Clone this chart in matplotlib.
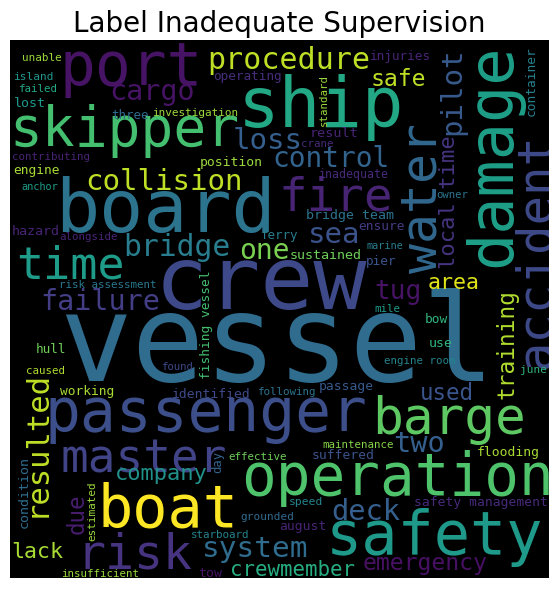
import matplotlib
matplotlib.use("Agg")
import matplotlib.pyplot as plt
from matplotlib.textpath import TextPath
from matplotlib.font_manager import FontProperties

# ---- data: words, their rendered size (ink length in px ~ frequency), colour (viridis fraction)
words = ["vessel", "crew", "board", "ship", "skipper", "port", "procedure", "damage",
         "accident", "water", "passenger", "operation", "safety", "boat", "barge",
         "master", "risk", "fire", "time", "loss", "control", "cargo", "collision",
         "bridge", "failure", "sea", "one", "tug", "area", "training", "used", "two",
         "deck", "emergency", "crewmember", "system", "company", "lack", "resulted",
         "pilot", "local time", "due", "safe", "unable", "island", "failed",
         "operating", "lost", "three", "investigation", "contributing", "position",
         "engine", "anchor", "injuries", "standard", "container", "result", "crane",
         "inadequate", "owner", "bridge team", "ensure", "hazard", "alongside",
         "ferry", "risk assessment", "sustained", "marine", "pier", "mile",
         "fishing vessel", "hull", "caused", "found", "working", "identified",
         "following", "passage", "bow", "use", "engine room", "june", "maintenance",
         "flooding", "suffered", "effective", "day", "condition", "estimated",
         "grounded", "starboard", "speed", "safety management", "august",
         "insufficient", "tow"]

spans = [418, 204, 207, 155, 222, 132, 158, 216,
         228, 148, 315, 303, 209, 130, 146,
         162, 107, 107, 103, 65, 112, 81, 152,
         103, 115, 47, 47, 43, 49, 106, 50, 48,
         67, 123, 122, 102, 90, 50, 139,
         82, 130, 38, 52, 38, 38, 37,
         67, 30, 36, 84, 76, 61,
         45, 36, 59, 50, 68, 45, 31,
         68, 31, 86, 45, 46, 57,
         36, 95, 70, 36, 29, 25,
         106, 28, 37, 30, 53, 77,
         57, 53, 22, 22, 70, 25, 70,
         60, 60, 57, 21, 70, 58,
         52, 57, 32, 130, 45,
         76, 23]

shades = [0.35, 0.22, 0.38, 0.60, 0.70, 0.05, 0.90, 0.56,
          0.22, 0.33, 0.24, 0.72, 0.54, 1.00, 0.75,
          0.20, 0.15, 0.10, 0.55, 0.30, 0.32, 0.05, 0.90,
          0.42, 0.18, 0.25, 0.80, 0.05, 0.95, 0.88, 0.26, 0.30,
          0.30, 0.04, 0.62, 0.35, 0.50, 0.87, 0.90,
          0.28, 0.15, 0.08, 0.90, 0.85, 0.53, 0.60,
          0.13, 0.53, 0.35, 0.85, 0.10, 0.85,
          0.87, 0.55, 0.10, 0.85, 0.43, 0.10, 0.12,
          0.12, 0.38, 0.38, 0.17, 0.10, 0.10,
          0.42, 0.40, 0.78, 0.42, 0.26, 0.55,
          0.70, 0.78, 0.88, 0.22, 0.87, 0.22,
          0.38, 0.27, 0.65, 0.65, 0.45, 0.65, 0.82,
          0.87, 0.25, 0.78, 0.32, 0.35, 0.85,
          0.34, 0.45, 0.45, 0.12, 0.10,
          0.85, 0.05]

# ---- layout: centre of each word (image pixels) and rotation
layout = [(274, 336, 0), (265, 285, 0), (166, 205, 0), (322, 108, 0), (126, 131, 0),
          (131, 70, 0), (289, 61, 0), (493, 155, 90), (532, 251, 90), (419, 199, 90),
          (208, 421, 0), (396, 479, 0), (437, 537, 0), (168, 505, 0), (450, 420, 0),
          (144, 457, 0), (139, 551, 0), (337, 193, 0), (71, 262, 0), (267, 138, 0),
          (331, 157, 0), (152, 95, 0), (164, 179, 0), (178, 248, 0), (100, 299, 0),
          (334, 235, 0), (264, 251, 0), (398, 293, 0), (454, 283, 0), (507, 345, 90),
          (447, 392, 0), (419, 442, 0), (366, 509, 0), (426, 566, 0), (293, 568, 0),
          (256, 550, 0), (162, 476, 0), (38, 550, 0), (33, 442, 90), (452, 91, 90),
          (447, 202, 90), (75, 514, 90), (399, 77, 0), (42, 57, 0), (34, 76, 0),
          (38, 88, 0), (247, 77, 0), (30, 102, 0), (130, 114, 0), (195, 113, 0),
          (51, 157, 0), (231, 162, 0), (37, 170, 0), (40, 186, 0), (400, 56, 0),
          (323, 100, 90), (530, 81, 90), (335, 132, 0), (318, 144, 0), (354, 175, 0),
          (452, 195, 0), (350, 215, 0), (382, 226, 0), (36, 230, 0), (88, 237, 0),
          (280, 236, 0), (108, 284, 0), (326, 254, 0), (385, 245, 0), (382, 261, 0),
          (387, 308, 0), (206, 325, 90), (51, 348, 0), (46, 370, 0), (177, 366, 0),
          (86, 391, 0), (211, 393, 0), (288, 392, 0), (346, 388, 0), (437, 318, 0),
          (441, 343, 0), (420, 361, 0), (534, 370, 0), (358, 444, 0), (508, 452, 0),
          (343, 454, 0), (258, 456, 0), (218, 462, 90), (23, 492, 90), (91, 511, 90),
          (267, 517, 0), (221, 534, 0), (306, 502, 0), (480, 502, 0), (302, 527, 0),
          (100, 573, 0), (211, 572, 0)]

W, H, DPI = 559, 589, 100
X0, X1, Y0, Y1 = 10, 549, 40, 578

fig = plt.figure(figsize=(W / DPI, H / DPI), dpi=DPI)
ax = fig.add_axes([X0 / W, (H - Y1) / H, (X1 - X0) / W, (Y1 - Y0) / H])
ax.set_xlim(X0, X1)
ax.set_ylim(Y1, Y0)
ax.set_facecolor("black")
ax.set_xticks([])
ax.set_yticks([])
for s in ax.spines.values():
    s.set_visible(False)

font = FontProperties(family="DejaVu Sans Mono")
cmap = plt.get_cmap("viridis")

for w, span, shade, (cx, cy, rot) in zip(words, spans, shades, layout):
    ext = TextPath((0, 0), w, size=100, prop=font).get_extents()
    f = span / ext.width
    em_px = 100 * f
    mx = (ext.x0 + ext.x1) / 2 * f
    my = (ext.y0 + ext.y1) / 2 * f
    if rot == 0:
        ox, oy = cx - mx, cy + my
    else:
        ox, oy = cx + my, cy + mx
    ax.text(ox, oy, w, fontproperties=font, fontsize=em_px * 72 / DPI,
            rotation=rot, rotation_mode="anchor", ha="left", va="baseline",
            color=cmap(shade), clip_on=True)

ax.set_title("Label Inadequate Supervision", fontsize=20)
fig.savefig("out.png", dpi=DPI)
